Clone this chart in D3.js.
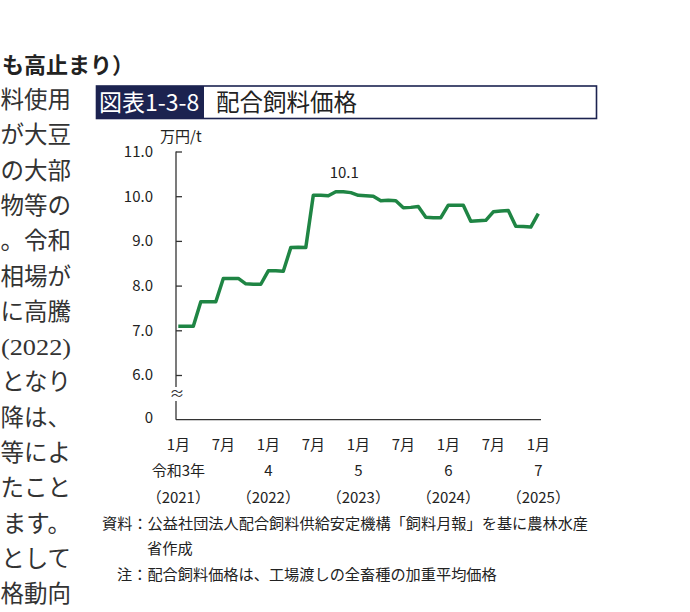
<!DOCTYPE html>
<html>
<head>
<meta charset="utf-8">
<script src="https://cdn.jsdelivr.net/npm/d3@7"></script>
<style>
  body { margin: 0; background: #fff; }
  svg { display: block; }
</style>
</head>
<body>
<svg id="chart" width="690" height="612"></svg>
<script>
// 月次の配合飼料価格（万円/t）、令和3年1月〜令和7年1月
var months = d3.range(0, 49); // 0 = 2021年1月
var prices = [
  7.09, 7.09, 7.09, 7.64, 7.64, 7.64, 8.16, 8.16, 8.16, 8.04, 8.03, 8.03,
  8.33, 8.33, 8.32, 8.85, 8.86, 8.85, 10.02, 10.02, 10.01, 10.10, 10.10, 10.08,
  10.02, 10.01, 10.00, 9.90, 9.91, 9.90, 9.74, 9.75, 9.77, 9.53, 9.52, 9.52,
  9.80, 9.80, 9.80, 9.44, 9.45, 9.46, 9.65, 9.67, 9.68, 9.33, 9.32, 9.31,
  9.61
];
var yTicks = [6, 7, 8, 9, 10, 11];
var monthTicks = [0, 6, 12, 18, 24, 30, 36, 42, 48];
var monthLabels = ["1月", "7月", "1月", "7月", "1月", "7月", "1月", "7月", "1月"];
var yearTicks = [0, 12, 24, 36, 48];
var eraLabels = ["令和3年", "4", "5", "6", "7"];
var yearLabels = ["（2021）", "（2022）", "（2023）", "（2024）", "（2025）"];
var peakIndex = 22;
var peakLabel = "10.1";

// 背景の本文（左側の切れた段組）
var bodyLines = ["料使用", "が大豆", "の大部", "物等の", "。令和", "相場が", "に高騰",
  "(2022)", "となり", "降は、", "等によ", "たこと", "ます。", "として", "格動向"];

var svg = d3.select("#chart");
var fontSans = "'Noto Sans CJK JP', 'Noto Sans', sans-serif";
var fontBody = "'Liberation Serif', 'Noto Sans CJK JP', serif";

// 見出し
svg.append("text")
  .attr("x", 2).attr("y", 73)
  .style("font-family", fontSans)
  .style("font-size", "22px")
  .style("font-weight", "bold")
  .style("fill", "#222")
  .text("も高止まり）");

svg.selectAll(".body-line")
  .data(bodyLines)
  .enter().append("text")
  .attr("class", "body-line")
  .attr("x", 71)
  .attr("y", function(d, i) { return 108 + i * 35.3; })
  .attr("text-anchor", "end")
  .attr("textLength", function(d) { return d === "(2022)" ? 70 : null; })
  .attr("lengthAdjust", "spacingAndGlyphs")
  .style("font-family", fontBody)
  .style("font-size", function(d) { return d === "(2022)" ? "24px" : "23.5px"; })
  .style("fill", "#333")
  .text(function(d) { return d; });

// タイトル枠
svg.append("rect")
  .attr("x", 96.5).attr("y", 86)
  .attr("width", 500).attr("height", 32.5)
  .attr("fill", "#fff")
  .attr("stroke", "#1c2350")
  .attr("stroke-width", 1.6);

svg.append("rect")
  .attr("x", 96.5).attr("y", 86)
  .attr("width", 107.5).attr("height", 32.5)
  .attr("fill", "#1c2350");

svg.append("text")
  .attr("x", 99).attr("y", 111)
  .style("font-family", fontSans)
  .style("font-size", "23px")
  .style("fill", "#fff")
  .text("図表1-3-8");

svg.append("text")
  .attr("x", 216).attr("y", 111)
  .style("font-family", fontSans)
  .style("font-size", "23.5px")
  .style("fill", "#222")
  .text("配合飼料価格");

// スケール
var xScale = d3.scaleLinear().domain([0, 48]).range([178.3, 538.3]);
var yScale = d3.scaleLinear().domain([5, 11]).range([419.7, 151.5]);
var axisX = 176;
var axisColor = "#333";

// 縦軸（波線で省略）
svg.append("line")
  .attr("x1", axisX).attr("x2", axisX)
  .attr("y1", yScale(11)).attr("y2", 387)
  .attr("stroke", axisColor).attr("stroke-width", 1.3);
svg.append("line")
  .attr("x1", axisX).attr("x2", axisX)
  .attr("y1", 401).attr("y2", yScale(5))
  .attr("stroke", axisColor).attr("stroke-width", 1.3);
svg.append("text")
  .attr("x", axisX + 1).attr("y", 399)
  .attr("text-anchor", "middle")
  .style("font-family", fontSans)
  .style("font-size", "15px")
  .style("fill", axisColor)
  .text("≈");

var yAxis = svg.append("g")
  .attr("transform", "translate(" + axisX + ",0)")
  .call(d3.axisLeft(yScale).tickValues(yTicks).tickSizeInner(-6).tickSizeOuter(0)
    .tickPadding(23).tickFormat(d3.format(".1f")));
yAxis.select(".domain").remove();
yAxis.selectAll(".tick line").attr("stroke", axisColor).attr("stroke-width", 1.3);
yAxis.selectAll(".tick text")
  .style("font-family", fontSans)
  .style("font-size", "15px")
  .style("fill", "#222");

svg.append("text")
  .attr("x", 153).attr("y", yScale(5) + 3)
  .attr("text-anchor", "end")
  .style("font-family", fontSans)
  .style("font-size", "15px")
  .style("fill", "#222")
  .text("0");

svg.append("text")
  .attr("x", 160).attr("y", 142)
  .style("font-family", fontSans)
  .style("font-size", "15px")
  .style("fill", "#222")
  .text("万円/t");

// 横軸
svg.append("line")
  .attr("x1", axisX).attr("x2", 541)
  .attr("y1", yScale(5)).attr("y2", yScale(5))
  .attr("stroke", axisColor).attr("stroke-width", 1.3);

svg.selectAll(".month-label")
  .data(monthTicks)
  .enter().append("text")
  .attr("class", "month-label")
  .attr("x", function(d) { return xScale(d); })
  .attr("y", 450)
  .attr("text-anchor", "middle")
  .style("font-family", fontSans)
  .style("font-size", "15px")
  .style("fill", "#222")
  .text(function(d, i) { return monthLabels[i]; });

svg.selectAll(".era-label")
  .data(yearTicks)
  .enter().append("text")
  .attr("class", "era-label")
  .attr("x", function(d) { return xScale(d); })
  .attr("y", 476)
  .attr("text-anchor", "middle")
  .style("font-family", fontSans)
  .style("font-size", "15px")
  .style("fill", "#222")
  .text(function(d, i) { return eraLabels[i]; });

svg.selectAll(".year-label")
  .data(yearTicks)
  .enter().append("text")
  .attr("class", "year-label")
  .attr("x", function(d) { return xScale(d); })
  .attr("y", 503)
  .attr("text-anchor", "middle")
  .style("font-family", fontSans)
  .style("font-size", "15px")
  .style("fill", "#222")
  .text(function(d, i) { return yearLabels[i]; });

// 折れ線
var line = d3.line()
  .x(function(d, i) { return xScale(months[i]); })
  .y(function(d) { return yScale(d); });

svg.append("path")
  .datum(prices)
  .attr("d", line)
  .attr("fill", "none")
  .attr("stroke", "#1f8544")
  .attr("stroke-width", 3.5)
  .attr("stroke-linejoin", "round");

svg.append("text")
  .attr("x", xScale(peakIndex) + 1)
  .attr("y", yScale(prices[peakIndex]) - 14)
  .attr("text-anchor", "middle")
  .style("font-family", fontSans)
  .style("font-size", "15px")
  .style("fill", "#222")
  .text(peakLabel);

// 資料・注
var notes = [
  { x: 102, y: 529, t: "資料：公益社団法人配合飼料供給安定機構「飼料月報」を基に農林水産" },
  { x: 147, y: 554, t: "省作成" },
  { x: 117, y: 580, t: "注：配合飼料価格は、工場渡しの全畜種の加重平均価格" }
];
svg.selectAll(".note")
  .data(notes)
  .enter().append("text")
  .attr("class", "note")
  .attr("x", function(d) { return d.x; })
  .attr("y", function(d) { return d.y; })
  .style("font-family", fontSans)
  .style("font-size", "15.2px")
  .style("fill", "#222")
  .text(function(d) { return d.t; });
</script>
</body>
</html>
